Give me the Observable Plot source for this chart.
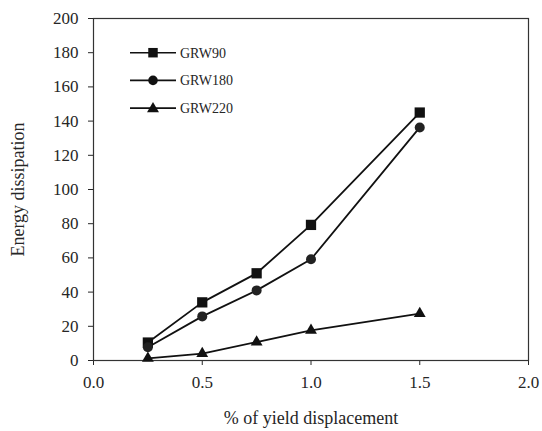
<!DOCTYPE html>
<html>
<head>
<meta charset="utf-8">
<script src="https://cdn.jsdelivr.net/npm/d3@7"></script>
<script src="https://cdn.jsdelivr.net/npm/@observablehq/plot@0.6"></script>
<style>
  html, body { margin: 0; padding: 0; background: #fff; }
  #wrap { position: relative; width: 542px; height: 431px; }
  #legend { position: absolute; left: 0; top: 0; }
</style>
</head>
<body>
<div id="wrap"></div>
<script>
const displacement = [0.25, 0.5, 0.75, 1.0, 1.5];
const seriesNames = ["GRW90", "GRW180", "GRW220"];
const grw90 = [10.5, 34, 51, 79.3, 145];
const grw180 = [7.8, 25.8, 41, 59.2, 136.3];
const grw220 = [1.2, 4, 10.8, 17.6, 27.4];
const symbols = ["square", "circle", "triangle"];
const yTicks = [0, 20, 40, 60, 80, 100, 120, 140, 160, 180, 200];
const xTicks = [0.0, 0.5, 1.0, 1.5, 2.0];

const allValues = [grw90, grw180, grw220];
const rows = [];
seriesNames.forEach((s, i) => {
  displacement.forEach((x, j) => rows.push({series: s, x, y: allValues[i][j], sym: symbols[i]}));
});

const font = "'Liberation Serif', 'Times New Roman', serif";

const plot = Plot.plot({
  width: 542,
  height: 431,
  marginLeft: 93,
  marginRight: 14,
  marginTop: 18,
  marginBottom: 71,
  style: {fontFamily: font, fontSize: "17px", color: "#262626", background: "#fff"},
  x: {domain: [0, 2], ticks: xTicks, tickFormat: d3.format(".1f"), tickSize: 5, tickPadding: 10, label: null},
  y: {domain: [0, 200], ticks: yTicks, tickSize: 5, tickPadding: 10, label: null},
  symbol: {domain: seriesNames, range: symbols},
  marks: [
    Plot.frame({stroke: "#333", strokeWidth: 1.2}),
    Plot.line(rows, {x: "x", y: "y", z: "series", stroke: "#111", strokeWidth: 1.8}),
    Plot.dot(rows.filter(d => d.sym === "square"), {x: "x", y: "y", symbol: "series", fill: "#111", r: 5.8}),
    Plot.dot(rows.filter(d => d.sym === "circle"), {x: "x", y: "y", symbol: "series", fill: "#222", r: 5}),
    Plot.dot(rows.filter(d => d.sym === "triangle"), {x: "x", y: "y", symbol: "series", fill: "#111", r: 4.4}),
    Plot.text(["% of yield displacement"], {frameAnchor: "bottom", dy: 63, text: d => d, fontSize: 18, fill: "#262626"}),
    Plot.text(["Energy dissipation"], {frameAnchor: "left", textAnchor: "middle", dx: -75, rotate: -90, text: d => d, fontSize: 18, fill: "#262626"})
  ]
});
document.getElementById("wrap").appendChild(plot);

// legend overlay
const leg = d3.select("#wrap").append("svg")
  .attr("id", "legend").attr("width", 542).attr("height", 431);
const symScale = d3.scaleOrdinal(seriesNames, [d3.symbolSquare, d3.symbolCircle, d3.symbolTriangle]);
const symSize = {GRW90: 90, GRW180: 72, GRW220: 62};
seriesNames.forEach((s, i) => {
  const g = leg.append("g").attr("transform", `translate(0,${52.7 + i * 27.7})`);
  g.append("line").attr("x1", 130).attr("x2", 176).attr("y1", 0).attr("y2", 0)
    .attr("stroke", "#111").attr("stroke-width", 1.6);
  g.append("path").attr("d", d3.symbol(symScale(s), symSize[s])())
    .attr("transform", `translate(153,${s === "GRW220" ? 0.8 : 0})`).attr("fill", "#111");
  g.append("text").attr("x", 180).attr("y", 0).attr("dy", "0.35em")
    .attr("font-family", font).attr("font-size", "14px").attr("fill", "#262626").text(s);
});
</script>
</body>
</html>
